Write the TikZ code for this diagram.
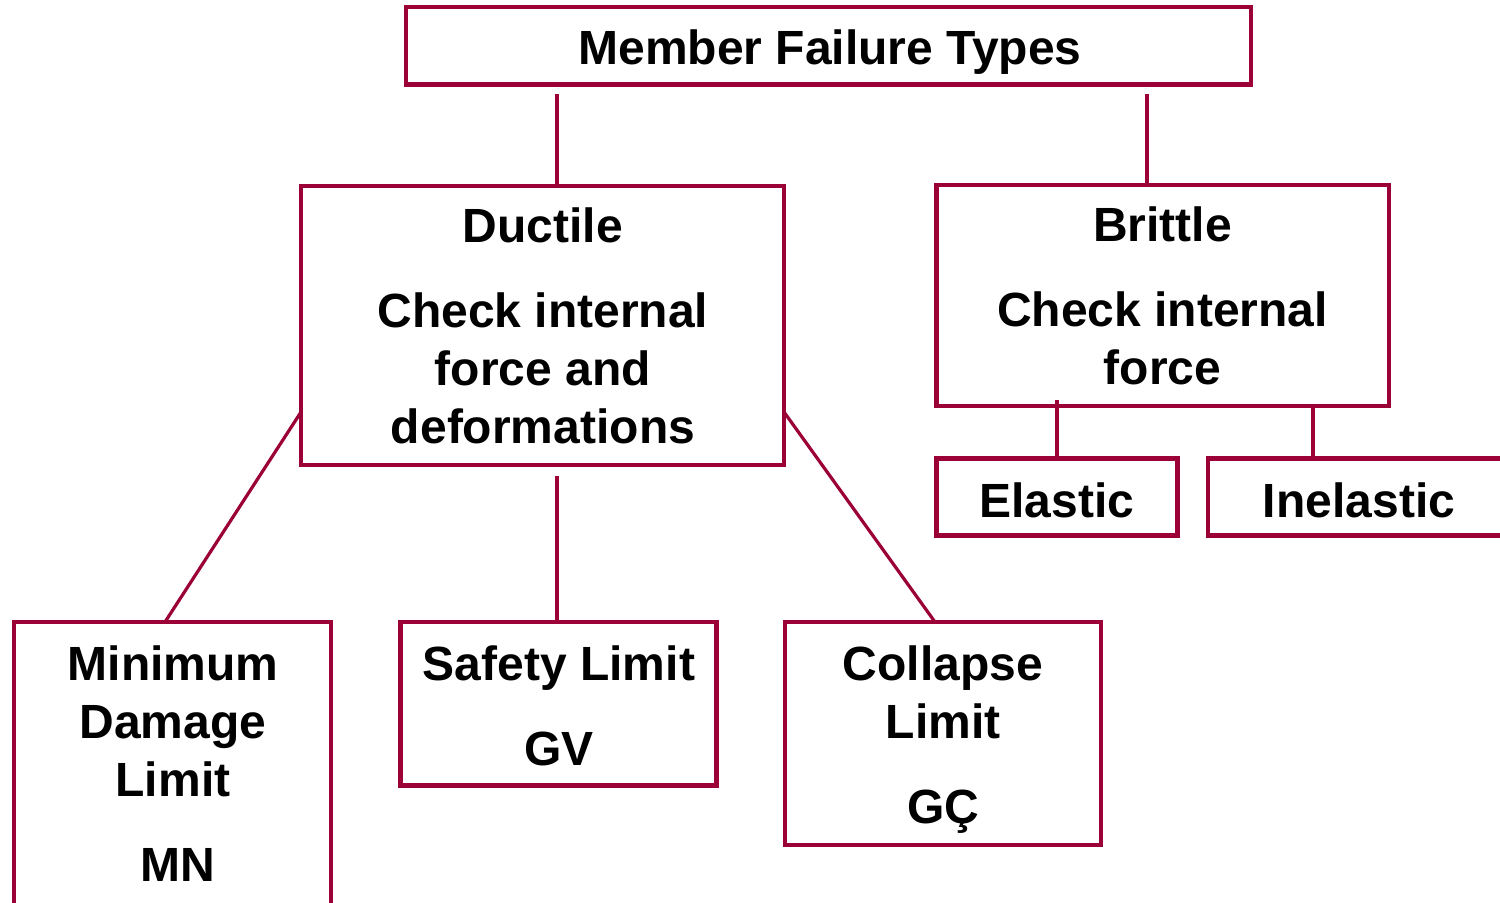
\documentclass[tikz,border=0pt]{standalone}
\usepackage{fontspec}
\setmainfont{Liberation Sans}
\definecolor{bord}{RGB}{155,0,54}
\begin{document}
\begin{tikzpicture}[x=0.5pt,y=-0.5pt,
  box/.style={draw=bord, line width=2.2pt, inner sep=0pt, outer sep=0pt},
  txt/.style={font=\fontsize{24}{29}\selectfont\bfseries, align=center, inner sep=0pt, anchor=north},
  conn/.style={draw=bord, line width=2.2pt},
  diag/.style={draw=bord, line width=1.6pt}]
\useasboundingbox (0,0) rectangle (1500,902);
% boxes
\node[box, minimum width=422.5pt, minimum height=38.75pt] (top) at (828.5,45.75) {};
\node[box, minimum width=241.5pt, minimum height=139.5pt] (duct) at (542.5,325.5) {};
\node[box, minimum width=226.25pt, minimum height=110.5pt] (brit) at (1162.75,295.5) {};
\node[box, minimum width=120.5pt, minimum height=38.5pt] (elas) at (1057,497) {};
\node[box, minimum width=151pt, minimum height=38.5pt] (inel) at (1359,497) {};
\node[box, minimum width=158.35pt, minimum height=144pt] (mind) at (172.35,766) {};
\node[box, minimum width=158pt, minimum height=81.75pt] (safe) at (558.5,703.75) {};
\node[box, minimum width=158pt, minimum height=111.5pt] (coll) at (943,733.5) {};
% texts
\node[txt] (topT) at (830,29.5) {Member Failure Types};
\node[txt] (ductT) at (543,207) {Ductile\\[13.5pt]Check internal\\force and\\deformations};
\node[txt] (britT) at (1162.5,206.5) {Brittle\\[13.5pt]Check internal\\force};
\node[txt] (elasT) at (1057,482) {Elastic};
\node[txt] (inelT) at (1359,482) {Inelastic};
\node[txt] (mindT) at (173,645) {Minimum\\Damage\\Limit\\[13.5pt]\hspace*{5pt}MN};
\node[txt] (safeT) at (559,645) {Safety Limit\\[13.5pt]GV};
\node[txt] (collT) at (943,645) {Collapse\\Limit\\[13.5pt]GÇ};
% connectors
\draw[conn] (top.south -| 557,0) ++(0,9.5) -- (duct.north -| 557,0);
\draw[conn] (top.south -| 1147,0) ++(0,9.5) -- (brit.north -| 1147,0);
\draw[diag] (duct.west |- 0,412) -- (mind.north -| 165,0);
\draw[diag] (duct.east |- 0,412) -- (coll.north -| 935,0);
\draw[conn] (duct.south -| 557,0) ++(0,11) -- (safe.north -| 557,0);
\draw[conn] (elas.north) -- ++(0,-58.5);
\draw[conn] (inel.north -| 1313,0) -- ++(0,-55);
\end{tikzpicture}
\end{document}
